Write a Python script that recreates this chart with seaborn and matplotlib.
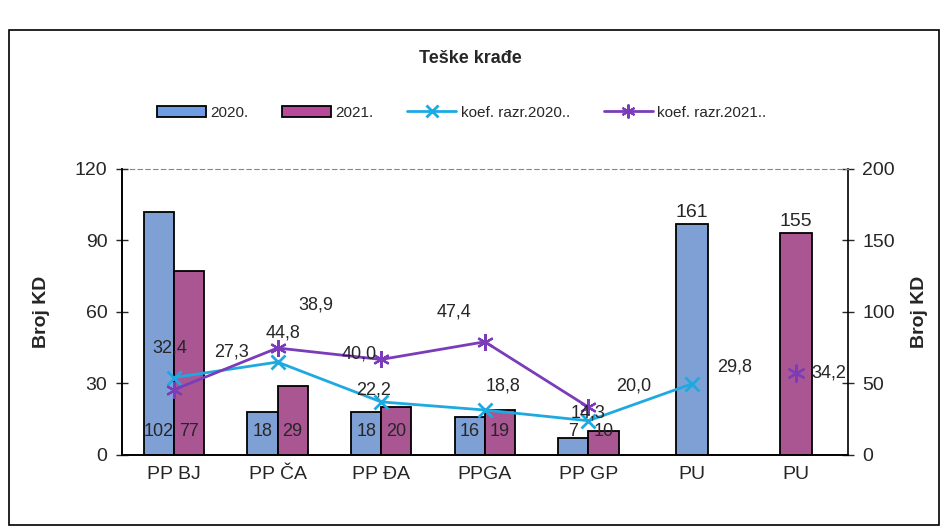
import numpy as np
import pandas as pd
import matplotlib
matplotlib.use("Agg")
import matplotlib.pyplot as plt
import seaborn as sns
from matplotlib.patches import Patch, Rectangle
from matplotlib.lines import Line2D

# chart data
categories = ["PP BJ", "PP ČA", "PP ĐA", "PPGA", "PP GP", "PU", "PU"]
keys = ["BJ", "CA", "DA", "GA", "GP", "PU20", "PU21"]
years = ["2020.", "2021."]
broj_2020 = [102, 18, 18, 16, 7]
broj_2021 = [77, 29, 20, 19, 10]
pu_broj = [161, 155]
koef_2020 = [32.4, 38.9, 22.2, 18.8, 14.3, 29.8]
koef_2021 = [27.3, 44.8, 40.0, 47.4, 20.0, 34.2]
koef_2020_keys = ["BJ", "CA", "DA", "GA", "GP", "PU20"]
koef_2021_keys = ["BJ", "CA", "DA", "GA", "GP", "PU21"]

blue = "#6f9de3"
pink = "#b8489a"
cyan = "#1ea9e1"
purple = "#7a3cb8"

sns.set_style("white")
plt.rcParams["font.family"] = ["Liberation Sans", "DejaVu Sans"]

df = pd.DataFrame({
    "key": keys[:5] * 2,
    "year": [years[0]] * 5 + [years[1]] * 5,
    "broj": broj_2020 + broj_2021,
})
df_pu = pd.DataFrame({"key": keys[5:], "year": years, "broj": pu_broj})

fig = plt.figure(figsize=(9.46, 5.32), dpi=100)
ax = fig.add_axes([0.129, 0.145, 0.767, 0.538])
ax2 = ax.twinx()

# PU totals on the secondary axis
sns.barplot(data=df_pu, x="key", y="broj", hue="year", order=keys, hue_order=years,
            palette=[blue, pink], dodge=False, width=0.31, edgecolor="black",
            linewidth=1.3, legend=False, ax=ax2)
# police stations on the primary axis
sns.barplot(data=df, x="key", y="broj", hue="year", order=keys, hue_order=years,
            palette=[blue, pink], width=0.58, edgecolor="black",
            linewidth=1.3, legend=False, ax=ax)

pos = {k: i for i, k in enumerate(keys)}
x20 = [pos[k] for k in koef_2020_keys]
x21 = [pos[k] for k in koef_2021_keys]
sns.lineplot(x=x20, y=koef_2020, ax=ax, color=cyan, marker="x", markersize=10,
             markeredgewidth=2, markeredgecolor=cyan, linewidth=2)
sns.lineplot(x=x21[:5], y=koef_2021[:5], ax=ax, color=purple, marker=(6, 2, 0),
             markersize=12, markeredgewidth=1.6, markeredgecolor=purple, linewidth=2)
sns.scatterplot(x=x21[5:], y=koef_2021[5:], ax=ax, color=purple, marker=(6, 2, 0),
                s=140, linewidth=1.6, edgecolor=purple)

ax.set_zorder(ax2.get_zorder() + 1)
ax.patch.set_visible(False)

# bar value labels
for c in ax.containers:
    for bar in c:
        h = bar.get_height()
        if np.isnan(h):
            continue
        ax.annotate(f"{int(h)}", (bar.get_x() + bar.get_width() / 2, 0),
                    xytext=(0, 15), textcoords="offset pixels",
                    ha="center", va="bottom", fontsize=13)
for c in ax2.containers:
    for bar in c:
        h = bar.get_height()
        if np.isnan(h) or h == 0:
            continue
        ax2.annotate(f"{int(h)}", (bar.get_x() + bar.get_width() / 2, h),
                     xytext=(0, 3), textcoords="offset pixels",
                     ha="center", va="bottom", fontsize=14)

# line labels (offsets as placed in the original)
off20 = [(-4, 30), (38, 57), (-8, 12), (18, 24), (0, 8), (42, 17)]
off21 = [(58, 38), (6, 15), (-22, 5), (-31, 30), (45, 21), (33, 0)]
for x, v, o in zip(x20, koef_2020, off20):
    ax.annotate(f"{v:.1f}".replace(".", ","), (x, v), xytext=o,
                textcoords="offset pixels", ha="center", va="center", fontsize=13)
for x, v, o in zip(x21, koef_2021, off21):
    ax.annotate(f"{v:.1f}".replace(".", ","), (x, v), xytext=o,
                textcoords="offset pixels", ha="center", va="center", fontsize=13)

# axes
ax.set_xlim(-0.5, 6.5)
ax.set_ylim(0, 120)
ax2.set_ylim(0, 200)
ax.set_yticks([0, 30, 60, 90, 120])
ax2.set_yticks([0, 50, 100, 150, 200])
ax.set_xticks(np.arange(-0.5, 7, 1))
ax.set_xticklabels([])
ax.set_xticks(range(7), minor=True)
ax.set_xticklabels(categories, minor=True, fontsize=14)
ax.tick_params(axis="x", which="major", direction="out", length=5, width=1)
ax.tick_params(axis="x", which="minor", length=0, pad=8)
ax.tick_params(axis="y", direction="inout", length=9, width=1, labelsize=14, pad=6)
ax2.tick_params(axis="y", direction="inout", length=9, width=1, labelsize=14, pad=6)
ax.set_xlabel("")
ax2.set_xlabel("")
ax.set_ylabel("Broj KD", fontsize=14, fontweight="bold", labelpad=18)
ax2.set_ylabel("Broj KD", fontsize=14, fontweight="bold", labelpad=12)

for a in (ax, ax2):
    for s in ("left", "right", "bottom"):
        a.spines[s].set_color("black")
        a.spines[s].set_linewidth(1.2)
    a.spines["top"].set_visible(False)
ax.spines["right"].set_visible(False)
ax2.spines["top"].set_visible(True)
ax2.spines["top"].set_color("#888888")
ax2.spines["top"].set_linestyle((0, (4, 3)))
ax2.spines["top"].set_linewidth(0.8)

fig.text(0.497, 0.89, "Teške krađe", ha="center", va="center",
         fontsize=13, fontweight="bold")

handles = [
    Patch(facecolor=blue, edgecolor="black", linewidth=1.3),
    Patch(facecolor=pink, edgecolor="black", linewidth=1.3),
    Line2D([], [], color=cyan, marker="x", markersize=8, markeredgewidth=2, linewidth=2),
    Line2D([], [], color=purple, marker=(6, 2, 0), markersize=10, markeredgewidth=1.5, linewidth=2),
]
labels = ["2020.", "2021.", "koef. razr.2020..", "koef. razr.2021.."]
fig.legend(handles, labels, loc="center", bbox_to_anchor=(0.488, 0.788), ncol=4,
           frameon=False, fontsize=11, handlelength=3.2, handleheight=0.8,
           handletextpad=0.3, columnspacing=2.2)

# chart frame
fig.patches.append(Rectangle((0.009, 0.013), 0.984, 0.93, transform=fig.transFigure,
                             fill=False, edgecolor="black", linewidth=1.2))

fig.savefig("out.png", dpi=100)
